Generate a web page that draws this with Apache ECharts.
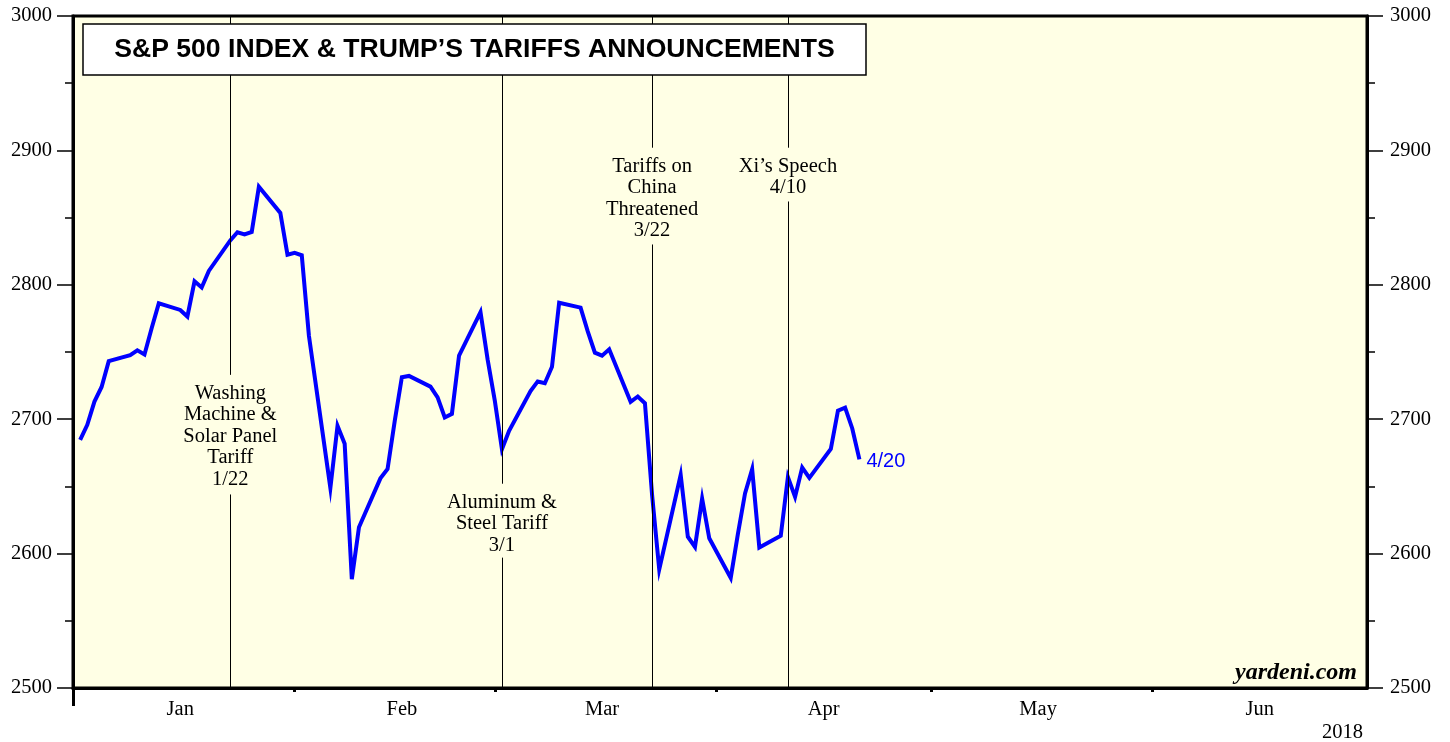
<!DOCTYPE html>
<html>
<head>
<meta charset="utf-8">
<script src="https://cdn.jsdelivr.net/npm/echarts@6/dist/echarts.min.js"></script>
<style>
  html, body { margin: 0; padding: 0; background: #ffffff; }
  #chart { width: 1450px; height: 742px; }
</style>
</head>
<body>
<div id="chart"></div>
<script>
// ---- Data (S&P 500 daily, holidays filled) ----
const dates = [
  '2018-01-01','2018-01-02','2018-01-03','2018-01-04','2018-01-05',
  '2018-01-08','2018-01-09','2018-01-10','2018-01-11','2018-01-12',
  '2018-01-15','2018-01-16','2018-01-17','2018-01-18','2018-01-19',
  '2018-01-22','2018-01-23','2018-01-24','2018-01-25','2018-01-26',
  '2018-01-29','2018-01-30','2018-01-31','2018-02-01','2018-02-02',
  '2018-02-05','2018-02-06','2018-02-07','2018-02-08','2018-02-09',
  '2018-02-12','2018-02-13','2018-02-14','2018-02-15','2018-02-16',
  '2018-02-19','2018-02-20','2018-02-21','2018-02-22','2018-02-23',
  '2018-02-26','2018-02-27','2018-02-28','2018-03-01','2018-03-02',
  '2018-03-05','2018-03-06','2018-03-07','2018-03-08','2018-03-09',
  '2018-03-12','2018-03-13','2018-03-14','2018-03-15','2018-03-16',
  '2018-03-19','2018-03-20','2018-03-21','2018-03-22','2018-03-23',
  '2018-03-26','2018-03-27','2018-03-28','2018-03-29','2018-03-30',
  '2018-04-02','2018-04-03','2018-04-04','2018-04-05','2018-04-06',
  '2018-04-09','2018-04-10','2018-04-11','2018-04-12','2018-04-13',
  '2018-04-16','2018-04-17','2018-04-18','2018-04-19','2018-04-20'
];
const spx = [
  2684.7, 2695.8, 2713.1, 2724.0, 2743.2,
  2747.7, 2751.3, 2748.2, 2767.6, 2786.2,
  2781.3, 2776.4, 2802.6, 2798.0, 2810.3,
  2833.0, 2839.1, 2837.5, 2839.3, 2872.9,
  2853.5, 2822.4, 2823.8, 2822.0, 2762.1,
  2648.9, 2695.1, 2681.7, 2581.0, 2619.6,
  2656.0, 2662.9, 2698.6, 2731.2, 2732.2,
  2724.2, 2716.3, 2701.3, 2704.0, 2747.3,
  2779.6, 2744.3, 2713.8, 2677.7, 2691.3,
  2720.9, 2728.1, 2726.8, 2739.0, 2786.6,
  2783.0, 2765.3, 2749.5, 2747.3, 2752.0,
  2712.9, 2716.9, 2711.9, 2643.7, 2588.3,
  2658.6, 2612.6, 2605.0, 2640.9, 2611.4,
  2581.9, 2614.5, 2644.7, 2662.8, 2604.5,
  2613.2, 2656.9, 2642.2, 2664.0, 2656.3,
  2677.8, 2706.4, 2708.6, 2693.1, 2670.1
];
const endLabelText = '4/20';

const eventDates = ['2018-01-22', '2018-03-01', '2018-03-22', '2018-04-10'];
const eventLabels = [
  'Washing\nMachine &\nSolar Panel\nTariff\n1/22',
  'Aluminum &\nSteel Tariff\n3/1',
  'Tariffs on\nChina\nThreatened\n3/22',
  'Xi\u2019s Speech\n4/10'
];
// where each event line is interrupted for its label (value units)
const eventGapTop = [2733, 2652, 2902, 2902];
const eventGapBottom = [2644, 2597, 2830, 2862];

const monthLabels = ['Jan', 'Feb', 'Mar', 'Apr', 'May', 'Jun'];
const monthLabelDates = ['2018-01-15','2018-02-15','2018-03-15','2018-04-15','2018-05-15','2018-06-15'];
const monthTickDates = ['2018-01-31','2018-02-28','2018-03-31','2018-04-30','2018-05-31'];
const yearLabel = '2018';
const titleText = 'S&P 500 INDEX & TRUMP\u2019S TARIFFS ANNOUNCEMENTS';
const sourceText = 'yardeni.com';

const xMin = '2017-12-31';
const xMax = '2018-06-30';
const yMin = 2500, yMax = 3000, yInterval = 100;

// ---- Build ----
const ts = s => { const p = s.split('-').map(Number); return Date.UTC(p[0], p[1]-1, p[2]); };
const seriesData = dates.map((d, i) => [ts(d), spx[i]]);

const serif = 'Liberation Serif, Times New Roman, serif';
const sans = 'Liberation Sans, Arial, Helvetica, sans-serif';

const markLineData = [];
eventDates.forEach((d, i) => {
  markLineData.push([
    { coord: [ts(d), yMax], label: { show: true, formatter: eventLabels[i] } },
    { coord: [ts(d), eventGapTop[i]] }
  ]);
  markLineData.push([
    { coord: [ts(d), eventGapBottom[i]], label: { show: false } },
    { coord: [ts(d), yMin] }
  ]);
});

const labelMap = {};
monthLabelDates.forEach((d, i) => { labelMap[ts(d)] = monthLabels[i]; });

const chart = echarts.init(document.getElementById('chart'), null, { renderer: 'canvas' });
const yAxisCommon = {
  type: 'value', min: yMin, max: yMax, interval: yInterval,
  axisLine: { show: true, lineStyle: { color: '#000', width: 3 } },
  axisTick: { show: true, length: 16, lineStyle: { color: '#000', width: 1.5 } },
  minorTick: { show: true, splitNumber: 2, length: 8, lineStyle: { color: '#000', width: 1.5 } },
  splitLine: { show: false },
  axisLabel: { color: '#000', fontFamily: serif, fontSize: 20.5, formatter: v => String(v) }
};

chart.setOption({
  animation: false,
  backgroundColor: '#ffffff',
  grid: {
    left: 73, right: 83, top: 16, bottom: 54,
    show: true, backgroundColor: '#FFFFE5', borderColor: '#000', borderWidth: 3
  },
  xAxis: [
    {
      type: 'value', min: ts(xMin), max: ts(xMax), scale: true,
      axisLine: { show: true, lineStyle: { color: '#000', width: 3 } },
      axisTick: { show: true, length: 4, lineStyle: { color: '#000', width: 3 },
                  customValues: monthTickDates.map(ts) },
      axisLabel: { show: true, color: '#000', fontFamily: serif, fontSize: 20.5, margin: 11,
                   customValues: monthLabelDates.map(ts),
                   formatter: v => labelMap[v] || '' },
      splitLine: { show: false }
    },
    {
      type: 'value', min: ts(xMin), max: ts(xMax), scale: true, position: 'bottom',
      axisLine: { show: false },
      axisTick: { show: true, length: 18, lineStyle: { color: '#000', width: 3 },
                  customValues: [ts(xMin)] },
      axisLabel: { show: false },
      splitLine: { show: false }
    }
  ],
  yAxis: [
    Object.assign({}, yAxisCommon, { position: 'left', axisLabel: Object.assign({}, yAxisCommon.axisLabel, { margin: 21 }) }),
    Object.assign({}, yAxisCommon, { position: 'right', axisLabel: Object.assign({}, yAxisCommon.axisLabel, { margin: 23 }) })
  ],
  series: [
    {
      type: 'line',
      data: seriesData,
      xAxisIndex: 0, yAxisIndex: 0,
      showSymbol: false,
      symbol: 'none',
      lineStyle: { color: '#0000FF', width: 4, join: 'miter' },
      itemStyle: { color: '#0000FF' },
      endLabel: { show: true, formatter: endLabelText, color: '#0000FF',
                  fontFamily: sans, fontSize: 20, distance: 7, offset: [0, 2] },
      markLine: {
        silent: true,
        symbol: ['none', 'none'],
        lineStyle: { color: '#000', width: 1, type: 'solid' },
        label: { show: true, position: 'end', distance: 8, color: '#000',
                 fontFamily: serif, fontSize: 20.5, lineHeight: 21.5, align: 'center' },
        emphasis: { disabled: true },
        data: markLineData
      },
      z: 3
    }
  ],
  graphic: [
    {
      type: 'rect', z: 100,
      shape: { x: 83, y: 24, width: 783, height: 51 },
      style: { fill: '#ffffff', stroke: '#000', lineWidth: 1.5 }
    },
    {
      type: 'text', z: 101,
      style: { text: titleText, x: 474.5, y: 50, textAlign: 'center', textVerticalAlign: 'middle',
               fontFamily: sans, fontWeight: 'bold', fontSize: 26.6, fill: '#000' }
    },
    {
      type: 'text', z: 101,
      style: { text: sourceText, x: 1357, y: 673, textAlign: 'right', textVerticalAlign: 'middle',
               fontFamily: serif, fontWeight: 'bold', fontStyle: 'italic', fontSize: 24, fill: '#000' }
    },
    {
      type: 'text', z: 101,
      style: { text: yearLabel, x: 1363, y: 733, textAlign: 'right', textVerticalAlign: 'middle',
               fontFamily: serif, fontSize: 20.5, fill: '#000' }
    }
  ]
});
</script>
</body>
</html>
